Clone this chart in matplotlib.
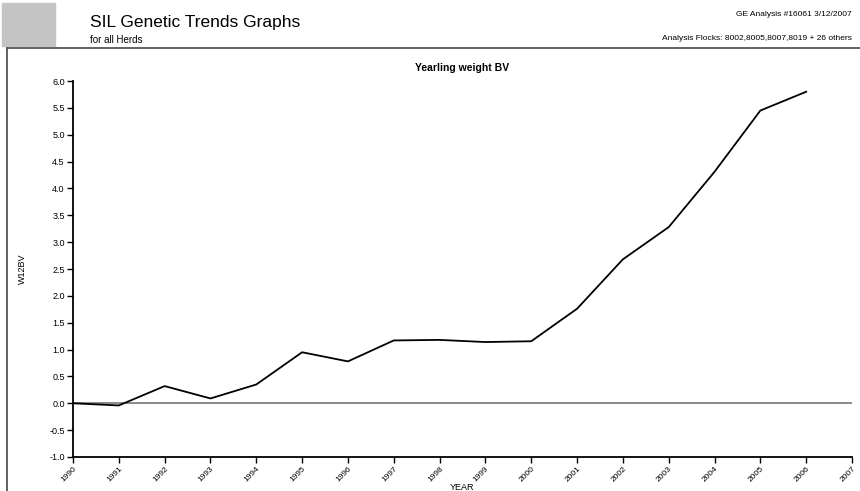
import matplotlib.pyplot as plt
from matplotlib.patches import Rectangle
from matplotlib.lines import Line2D

plt.rcParams['font.family'] = ['Liberation Sans', 'DejaVu Sans']

years = list(range(1990, 2007))
w12bv = [0.00, -0.04, 0.32, 0.09, 0.35, 0.95, 0.78, 1.17, 1.18, 1.14,
         1.155, 1.76, 2.68, 3.28, 4.31, 5.45, 5.80]
tick_years = list(range(1990, 2008))
y_ticks = [-1.0, -0.5, 0.0, 0.5, 1.0, 1.5, 2.0, 2.5, 3.0, 3.5, 4.0, 4.5, 5.0, 5.5, 6.0]

fig = plt.figure(figsize=(8.6, 4.91), dpi=100)

# header
fig.add_artist(Rectangle((2 / 860, 1 - 46 / 491), 53 / 860, 43 / 491,
                         transform=fig.transFigure, color='#c4c4c4'))
fig.text(90 / 860, 1 - 22 / 491, "SIL Genetic Trends Graphs", fontsize=12.5, va='center')
fig.text(90 / 860, 1 - 40 / 491, "for all Herds", fontsize=7, va='center')
fig.text(852 / 860, 1 - 14 / 491, "GE Analysis #16061 3/12/2007", fontsize=6, ha='right', va='center')
fig.text(852 / 860, 1 - 38 / 491, "Analysis Flocks: 8002,8005,8007,8019 + 26 others",
         fontsize=6, ha='right', va='center')

# page frame
fig.add_artist(Line2D([7 / 860, 7 / 860], [0, 1 - 48 / 491], transform=fig.transFigure,
                      color='#555555', lw=1.3))
fig.add_artist(Line2D([7 / 860, 1], [1 - 48 / 491, 1 - 48 / 491], transform=fig.transFigure,
                      color='#555555', lw=1.3))

ax = fig.add_axes([73 / 860, 34 / 491, 779 / 860, 376 / 491])
ax.axhline(0, color='#777777', lw=1.2, zorder=1)
ax.plot(years, w12bv, color='black', lw=1.3, zorder=2)

ax.set_xlim(1990, 2007)
ax.set_ylim(-1.0, 6.0)
ax.set_xticks(tick_years)
ax.set_xticklabels([str(y) for y in tick_years], rotation=45, ha='right',
                   rotation_mode='anchor', fontsize=6)
ax.set_yticks(y_ticks)
ax.set_yticklabels([f"{v:.1f}" for v in y_ticks], fontsize=6.5)
ax.tick_params(direction='out', length=4, width=1, pad=2)
ax.spines['top'].set_visible(False)
ax.spines['right'].set_visible(False)
ax.spines['left'].set_linewidth(1.3)
ax.spines['bottom'].set_linewidth(1.3)

ax.set_title("Yearling weight BV", fontsize=7.5, fontweight='bold', pad=7)
fig.text(462 / 860, 1 - 487 / 491, "YEAR", fontsize=6.5, ha='center', va='center')
fig.text(22 / 860, 1 - 269 / 491, "W12BV", fontsize=6.5, rotation=90, ha='center', va='center')

fig.savefig("out.png", dpi=100)
